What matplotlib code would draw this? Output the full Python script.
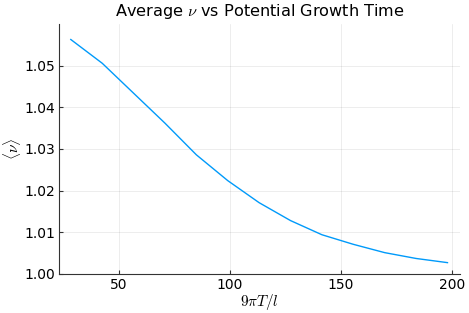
import numpy as np
import matplotlib.pyplot as plt
from matplotlib.ticker import FormatStrFormatter

plt.rcParams['mathtext.fontset'] = 'cm'

# growth time in units of 9*pi*T/l, sampled every 9*pi/2
k = np.arange(2, 15)
x = 9 * np.pi * k / 2
nu_avg = [1.0563, 1.0506, 1.0434, 1.0362, 1.0286, 1.0224, 1.0171,
          1.0128, 1.0094, 1.0071, 1.0051, 1.0037, 1.0027]

fig = plt.figure(figsize=(4.69, 3.13), dpi=100)
ax = fig.add_axes([0.126, 0.125, 0.855, 0.798])

ax.plot(x, nu_avg, color='#009AFA', lw=1)

ax.set_xlim(23, 203.6)
ax.set_ylim(1.0, 1.0600)
ax.set_xticks([50, 100, 150, 200])
ax.set_yticks([1.00, 1.01, 1.02, 1.03, 1.04, 1.05])
ax.yaxis.set_major_formatter(FormatStrFormatter('%.2f'))

ax.grid(True, color='black', alpha=0.1, lw=0.5)
for s in ['top', 'right']:
    ax.spines[s].set_visible(False)
for s in ['left', 'bottom']:
    ax.spines[s].set_color('#333333')
ax.tick_params(direction='in', length=3, labelsize=10, color='#333333', pad=3)

ax.set_title(r'Average $\nu$ vs Potential Growth Time', fontsize=11.6, pad=6)
ax.set_xlabel(r'$9\pi T/l$', fontsize=11, labelpad=0)
ax.set_ylabel(r'$\langle\nu\rangle$', fontsize=11, labelpad=1)

fig.savefig('out.png', dpi=100)
